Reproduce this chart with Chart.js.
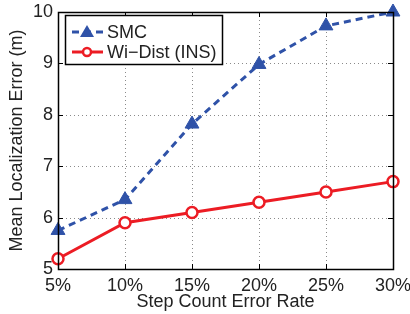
<!DOCTYPE html>
<html>
<head>
<meta charset="utf-8">
<script src="https://cdn.jsdelivr.net/npm/chart.js@4/dist/chart.umd.min.js"></script>
<style>
  html, body { margin: 0; padding: 0; background: #fff; }
  canvas { display: block; }
</style>
</head>
<body>
<canvas id="grafico" width="410" height="314"></canvas>
<script>
// Datos
const categorias = ['5%', '10%', '15%', '20%', '25%', '30%'];
const smc = [5.75, 6.35, 7.82, 8.98, 9.73, 10.0];
const wiDist = [5.2, 5.9, 6.1, 6.3, 6.5, 6.7];
const yMin = 5;
const yMax = 10;
const yPaso = 1;

const azul = '#2f52a8';
const rojo = '#ec1c24';
const fuente = "'Liberation Sans', Arial, Helvetica, sans-serif";

// Rejilla punteada detras de las lineas
const rejilla = {
    id: 'rejilla',
    beforeDatasetsDraw(chart) {
        const ctx = chart.ctx;
        const a = chart.chartArea;
        const xs = chart.scales.x;
        const ys = chart.scales.y;
        ctx.save();
        ctx.strokeStyle = '#8a8a8a';
        ctx.lineWidth = 1;
        ctx.setLineDash([1, 3]);
        ctx.beginPath();
        xs.ticks.forEach((t, i) => {
            const x = Math.round(xs.getPixelForTick(i)) + 0.5;
            ctx.moveTo(x, a.top); ctx.lineTo(x, a.bottom);
        });
        ys.ticks.forEach((t, i) => {
            const y = Math.round(ys.getPixelForTick(i)) + 0.5;
            ctx.moveTo(a.left, y); ctx.lineTo(a.right, y);
        });
        ctx.stroke();
        ctx.restore();
    }
};

// Marco negro, marcas hacia dentro y leyenda con caja (estilo MATLAB)
const marco = {
    id: 'marco',
    afterDraw(chart) {
        const ctx = chart.ctx;
        const a = chart.chartArea;
        const xs = chart.scales.x;
        const ys = chart.scales.y;
        ctx.save();
        ctx.strokeStyle = '#000';
        ctx.lineWidth = 1;
        ctx.beginPath();
        xs.ticks.forEach((t, i) => {
            const x = Math.round(xs.getPixelForTick(i)) + 0.5;
            ctx.moveTo(x, a.bottom); ctx.lineTo(x, a.bottom - 5);
            ctx.moveTo(x, a.top); ctx.lineTo(x, a.top + 5);
        });
        ys.ticks.forEach((t, i) => {
            const y = Math.round(ys.getPixelForTick(i)) + 0.5;
            ctx.moveTo(a.left, y); ctx.lineTo(a.left + 5, y);
            ctx.moveTo(a.right, y); ctx.lineTo(a.right - 5, y);
        });
        ctx.stroke();
        ctx.lineWidth = 1.5;
        ctx.strokeRect(Math.round(a.left) + 0.5, Math.round(a.top) + 0.5,
            Math.round(a.right - a.left), Math.round(a.bottom - a.top));

        // Leyenda
        const lx = 65, ly = 15, lw = 157, lh = 49;
        ctx.fillStyle = '#fff';
        ctx.fillRect(lx, ly, lw, lh);
        ctx.lineWidth = 1.5;
        ctx.strokeStyle = '#000';
        ctx.strokeRect(lx + 0.5, ly + 0.5, lw, lh);

        ctx.font = '18px ' + fuente;
        ctx.textBaseline = 'middle';
        ctx.textAlign = 'left';
        chart.data.datasets.forEach((ds, i) => {
            const cy = ly + 17 + i * 20;
            ctx.strokeStyle = ds.borderColor;
            ctx.lineWidth = 3;
            ctx.setLineDash(ds.borderDash || []);
            ctx.beginPath();
            ctx.moveTo(lx + 7, cy);
            ctx.lineTo(lx + 38, cy);
            ctx.stroke();
            ctx.setLineDash([]);
            const mx = lx + 22;
            if (ds.pointStyle === 'triangle') {
                ctx.fillStyle = ds.pointBackgroundColor;
                ctx.beginPath();
                ctx.moveTo(mx, cy - 7);
                ctx.lineTo(mx + 7, cy + 5);
                ctx.lineTo(mx - 7, cy + 5);
                ctx.closePath();
                ctx.fill();
            } else {
                ctx.fillStyle = '#fff';
                ctx.lineWidth = 2.5;
                ctx.beginPath();
                ctx.arc(mx, cy, 4, 0, Math.PI * 2);
                ctx.fill();
                ctx.stroke();
            }
            ctx.fillStyle = '#222';
            ctx.fillText(ds.label, lx + 42, cy + 1);
        });
        ctx.restore();
    }
};

new Chart(document.getElementById('grafico'), {
    type: 'line',
    data: {
        labels: categorias,
        datasets: [{
            label: 'SMC',
            data: smc,
            borderColor: azul,
            borderWidth: 3,
            borderDash: [7, 5],
            pointStyle: 'triangle',
            pointRadius: 8,
            pointBackgroundColor: azul,
            pointBorderColor: azul,
            pointBorderWidth: 1,
            clip: false
        }, {
            label: 'Wi\u2212Dist (INS)',
            data: wiDist,
            borderColor: rojo,
            borderWidth: 3,
            pointStyle: 'circle',
            pointRadius: 5.5,
            pointBackgroundColor: '#fff',
            pointBorderColor: rojo,
            pointBorderWidth: 2.5,
            clip: false
        }]
    },
    options: {
        responsive: false,
        animation: false,
        layout: { padding: { top: 12, right: 17, left: 0, bottom: 0 } },
        plugins: {
            legend: { display: false },
            tooltip: { enabled: false }
        },
        scales: {
            x: {
                offset: false,
                afterFit(scale) {
                    scale.height = 45;
                    scale.paddingLeft = 0;
                    scale.paddingRight = 0;
                },
                grid: { display: false, drawTicks: false },
                border: { display: false },
                ticks: { color: '#222', font: { family: fuente, size: 18 }, padding: 6, maxRotation: 0 },
                title: {
                    display: true,
                    text: 'Step Count Error Rate',
                    color: '#222',
                    font: { family: fuente, size: 18 },
                    padding: { top: 0, bottom: 1 }
                }
            },
            y: {
                min: yMin,
                max: yMax,
                afterFit(scale) {
                    scale.width = 58;
                    scale.paddingTop = 0;
                    scale.paddingBottom = 0;
                },
                grid: { display: false, drawTicks: false },
                border: { display: false },
                ticks: { stepSize: yPaso, color: '#222', font: { family: fuente, size: 18 }, padding: 5 },
                title: {
                    display: true,
                    text: 'Mean Localization Error (m)',
                    color: '#222',
                    font: { family: fuente, size: 18 },
                    padding: { top: 6, bottom: 0 }
                }
            }
        }
    },
    plugins: [rejilla, marco]
});
</script>
</body>
</html>
